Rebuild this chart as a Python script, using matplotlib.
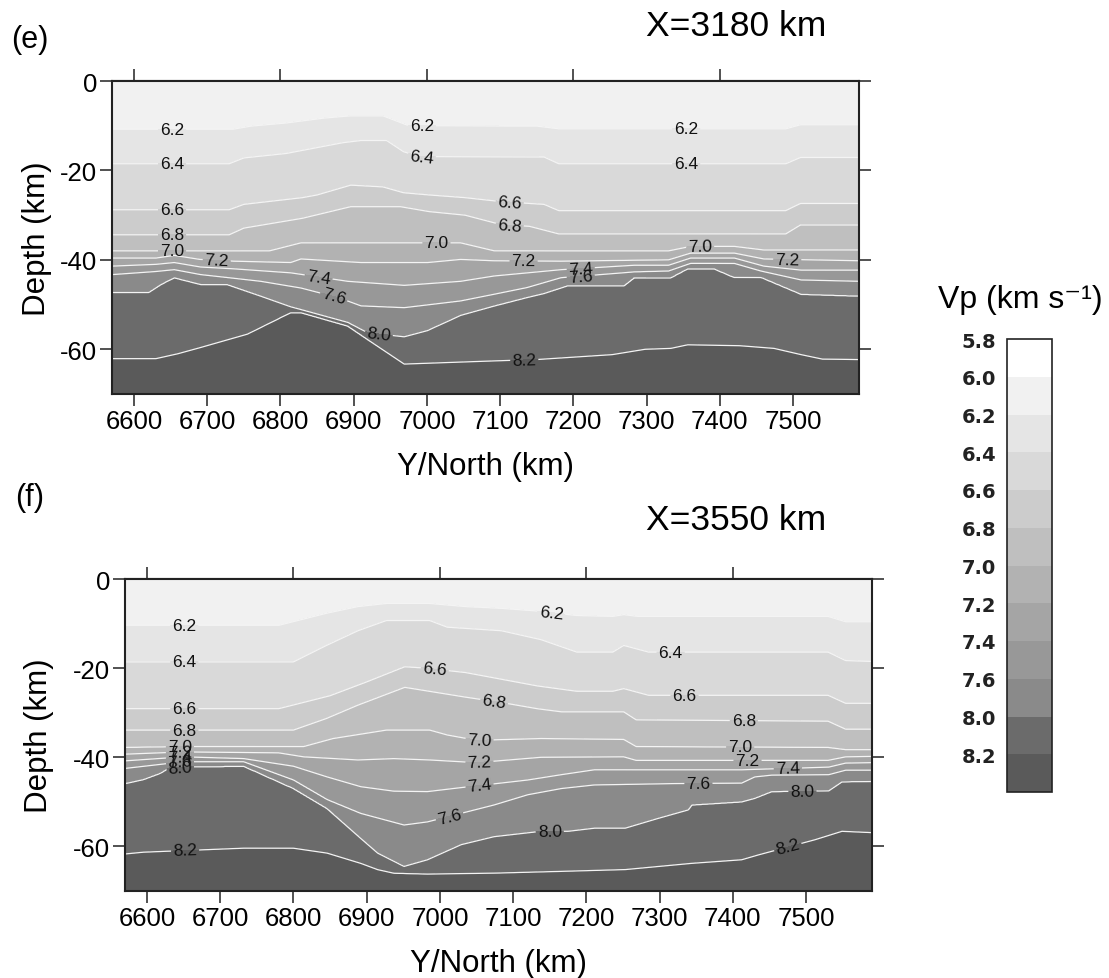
import numpy as np
import matplotlib
matplotlib.use('Agg')
import matplotlib.pyplot as plt

plt.rcParams['font.family'] = ['Liberation Sans', 'DejaVu Sans']
plt.rcParams['axes.unicode_minus'] = False

W, H = 1109, 979

# ---------------- colour scale ----------------
VP_BOUNDS = [5.8, 6.0, 6.2, 6.4, 6.6, 6.8, 7.0, 7.2, 7.4, 7.6, 8.0, 8.2, 8.6]
VP_TICKS = [5.8, 6.0, 6.2, 6.4, 6.6, 6.8, 7.0, 7.2, 7.4, 7.6, 8.0, 8.2]
LINE_LEVELS = [6.2, 6.4, 6.6, 6.8, 7.0, 7.2, 7.4, 7.6, 8.0, 8.2]
GREYS = ['#ffffff', '#f1f1f1', '#e5e5e5', '#d9d9d9', '#cccccc', '#bfbfbf',
         '#b2b2b2', '#a5a5a5', '#989898', '#8a8a8a', '#6b6b6b', '#5a5a5a']
SURFACE_VP = 6.1
BOTTOM_VP = 8.35

# ---------------- panel (e): X = 3180 km, iso-velocity depths ----------------
e_y62 = [6570, 6735, 6760, 6808, 6860, 6896, 6940, 6975, 7150, 7180, 7490, 7510, 7590]
e_z62 = [-10.8, -10.8, -10.1, -9.4, -8.3, -7.8, -7.8, -10.0, -10.1, -10.7, -10.7, -9.8, -9.8]
e_y64 = [6570, 6730, 6750, 6808, 6840, 6885, 6910, 6945, 6968, 6990, 7160, 7180, 7490, 7510, 7590]
e_z64 = [-18.5, -18.5, -17.2, -16.2, -15.2, -13.8, -13.3, -13.3, -15.8, -16.9, -17.0, -18.5, -18.5, -17.1, -17.1]
e_y66 = [6570, 6730, 6750, 6830, 6850, 6896, 6940, 6968, 7003, 7052, 7091, 7140, 7160, 7180, 7490, 7510, 7590]
e_z66 = [-28.8, -28.8, -27.6, -26.1, -25.5, -23.3, -23.7, -25.0, -25.5, -26.1, -26.8, -27.4, -27.6, -29.0, -29.0, -27.4, -27.4]
e_y68 = [6570, 6730, 6750, 6830, 6896, 6964, 7003, 7052, 7101, 7140, 7180, 7490, 7510, 7590]
e_z68 = [-34.4, -34.4, -32.9, -30.7, -28.1, -28.1, -29.2, -30.0, -32.1, -32.5, -34.2, -34.2, -32.2, -32.2]
e_y70 = [6570, 6785, 6828, 7046, 7092, 7330, 7360, 7420, 7460, 7590]
e_z70 = [-38.0, -38.0, -36.2, -36.2, -38.0, -38.0, -37.0, -37.0, -37.8, -37.8]
e_y72 = [6570, 6630, 6655, 6690, 6736, 6814, 6828, 6910, 7001, 7046, 7092, 7183, 7330, 7360, 7420, 7460, 7590]
e_z72 = [-39.6, -39.6, -39.0, -39.9, -40.3, -40.6, -39.8, -40.6, -40.6, -39.9, -40.2, -40.3, -40.0, -38.5, -38.5, -39.8, -40.2]
e_y74 = [6570, 6630, 6655, 6691, 6736, 6814, 6892, 6969, 7046, 7092, 7183, 7283, 7330, 7360, 7420, 7460, 7511, 7590]
e_z74 = [-41.4, -41.0, -40.6, -41.6, -42.0, -42.9, -44.8, -45.7, -44.8, -43.6, -42.2, -41.2, -41.2, -39.6, -39.6, -41.4, -42.3, -42.3]
e_y76 = [6570, 6630, 6655, 6691, 6773, 6828, 6880, 6910, 6969, 7046, 7092, 7137, 7183, 7283, 7330, 7360, 7420, 7456, 7511, 7590]
e_z76 = [-43.3, -42.6, -42.2, -43.3, -44.8, -46.3, -48.5, -50.3, -50.7, -49.2, -47.7, -46.2, -44.0, -42.7, -42.5, -40.8, -40.8, -42.5, -44.5, -44.8]
e_y80 = [6570, 6620, 6637, 6655, 6691, 6727, 6773, 6814, 6892, 6919, 6969, 7001, 7046, 7092, 7137, 7160, 7192,
         7269, 7283, 7333, 7356, 7392, 7419, 7456, 7511, 7590]
e_z80 = [-47.3, -47.3, -45.5, -44.0, -45.5, -45.5, -48.1, -50.5, -54.0, -56.3, -57.2, -55.8, -52.4, -50.3, -48.4, -47.5, -45.8,
         -45.8, -44.0, -44.0, -42.0, -42.0, -43.9, -43.9, -47.7, -48.1]
e_y82 = [6570, 6630, 6660, 6691, 6755, 6814, 6828, 6892, 6919, 6969, 7092, 7150, 7253, 7298, 7333, 7356, 7427, 7474, 7511, 7540, 7590]
e_z82 = [-62.1, -62.1, -61.0, -59.6, -56.6, -51.8, -51.8, -54.8, -57.8, -63.3, -62.6, -62.3, -61.2, -60.0, -59.8, -59.0, -59.2, -59.8, -61.2, -62.2, -62.3]

# ---------------- panel (f): X = 3550 km ----------------
f_y62 = [6570, 6780, 6845, 6888, 6927, 6986, 7035, 7084, 7133, 7187, 7236, 7251, 7270, 7530, 7554, 7590]
f_z62 = [-10.4, -10.4, -7.7, -6.2, -5.5, -5.5, -6.2, -6.6, -7.2, -8.2, -8.4, -8.0, -8.4, -8.4, -9.6, -9.6]
f_y64 = [6570, 6800, 6845, 6888, 6927, 6986, 7010, 7084, 7138, 7187, 7236, 7251, 7285, 7530, 7554, 7590]
f_z64 = [-18.6, -18.6, -14.9, -11.6, -9.3, -9.3, -10.8, -11.6, -13.6, -16.4, -16.4, -14.9, -16.4, -16.4, -18.3, -18.5]
f_y66 = [6570, 6780, 6850, 6900, 6952, 6980, 7035, 7084, 7133, 7187, 7236, 7251, 7285, 7530, 7554, 7590]
f_z66 = [-29.1, -29.1, -26.2, -23.1, -19.7, -20.0, -21.0, -22.5, -24.0, -25.2, -25.2, -24.6, -26.1, -26.1, -27.9, -27.9]
f_y68 = [6570, 6800, 6845, 6888, 6952, 6986, 7035, 7084, 7133, 7166, 7251, 7268, 7530, 7554, 7590]
f_z68 = [-33.9, -33.9, -31.3, -28.3, -24.3, -25.2, -26.5, -27.7, -29.1, -29.8, -29.8, -31.6, -31.9, -33.7, -33.7]
f_y70 = [6570, 6650, 6814, 6854, 6927, 6986, 7010, 7050, 7138, 7251, 7268, 7530, 7554, 7590]
f_z70 = [-37.8, -37.6, -37.6, -35.8, -33.9, -33.9, -35.0, -36.2, -35.8, -36.0, -37.6, -37.8, -38.3, -38.3]
f_y72 = [6570, 6650, 6780, 6814, 6888, 6937, 6986, 7050, 7138, 7251, 7268, 7530, 7554, 7590]
f_z72 = [-39.3, -38.8, -39.0, -39.9, -40.6, -40.3, -40.6, -41.2, -40.0, -39.9, -40.7, -40.7, -39.9, -39.8]
f_y74 = [6570, 6650, 6732, 6800, 6846, 6892, 6937, 6983, 7029, 7120, 7166, 7211, 7412, 7474, 7531, 7554, 7590]
f_z74 = [-40.8, -39.9, -40.3, -42.0, -44.4, -46.6, -47.6, -47.7, -46.8, -45.1, -43.9, -42.8, -42.8, -42.5, -42.2, -41.3, -41.2]
f_y76 = [6570, 6650, 6732, 6800, 6846, 6892, 6951, 6983, 7074, 7120, 7166, 7211, 7320, 7412, 7430, 7453, 7531, 7554, 7590]
f_z76 = [-42.5, -41.0, -41.0, -45.1, -49.5, -52.6, -55.2, -54.5, -50.7, -48.4, -47.0, -46.2, -45.9, -45.8, -44.4, -44.0, -43.9, -42.9, -42.9]
f_y80 = [6570, 6595, 6618, 6632, 6732, 6800, 6846, 6892, 6915, 6951, 6983, 7029, 7074, 7138, 7175, 7211, 7253,
         7298, 7339, 7344, 7412, 7430, 7453, 7531, 7549, 7590]
f_z80 = [-45.9, -45.0, -43.6, -42.2, -42.0, -47.0, -51.5, -58.2, -61.5, -64.5, -63.0, -59.6, -57.8, -56.6, -56.6, -55.9, -55.9,
         -53.7, -51.8, -50.7, -50.0, -49.2, -47.7, -47.5, -45.5, -45.4]
f_y82 = [6570, 6595, 6732, 6800, 6846, 6892, 6915, 6937, 6983, 7074, 7166, 7253, 7344, 7412, 7435, 7512, 7549, 7590]
f_z82 = [-61.7, -61.3, -60.4, -60.4, -61.5, -63.8, -65.2, -66.0, -66.2, -66.0, -65.6, -65.2, -63.8, -63.0, -61.9, -58.5, -56.6, -56.9]

E_LINES = [(e_y62, e_z62), (e_y64, e_z64), (e_y66, e_z66), (e_y68, e_z68), (e_y70, e_z70),
           (e_y72, e_z72), (e_y74, e_z74), (e_y76, e_z76), (e_y80, e_z80), (e_y82, e_z82)]
F_LINES = [(f_y62, f_z62), (f_y64, f_z64), (f_y66, f_z66), (f_y68, f_z68), (f_y70, f_z70),
           (f_y72, f_z72), (f_y74, f_z74), (f_y76, f_z76), (f_y80, f_z80), (f_y82, f_z82)]

# contour-label anchor points (Y, depth)
E_LABEL_POS = [(6652, -10.8), (6993, -10.0), (7354, -10.7), (6652, -18.6), (6993, -17.1), (7354, -18.6),
               (6652, -28.9), (7113, -27.2), (6652, -34.4), (7113, -32.3), (6652, -38.0), (7013, -36.3),
               (7373, -37.1), (6713, -40.3), (7132, -40.4), (7492, -40.2), (6852, -44.0), (7210, -41.9),
               (6872, -48.8), (7210, -43.6), (6934, -57.0), (7133, -62.6)]
F_LABEL_POS = [(6651, -10.4), (7152, -7.3), (6651, -18.6), (7315, -16.4), (6651, -29.1), (6993, -20.2),
               (7334, -26.1), (6651, -33.9), (7074, -27.6), (7415, -31.9), (6645, -37.6), (7054, -36.1),
               (7410, -37.8), (6645, -38.8), (7054, -41.2), (7420, -40.7), (6645, -39.9), (7054, -46.3),
               (7475, -42.4), (6645, -41.0), (7013, -53.2), (7353, -45.9), (6645, -42.1), (7150, -56.6),
               (7495, -47.6), (6652, -60.6), (7475, -60.1)]

Y_MIN, Y_MAX = 6570, 7590
Z_MIN, Z_MAX = -70, 0


def velocity_field(lines):
    yf = np.linspace(Y_MIN, Y_MAX, 900)
    zf = np.linspace(Z_MIN, Z_MAX, 800)
    depths = np.array([np.interp(yf, ly, lz) for ly, lz in lines])  # (nlev, ny)
    vals = np.array([SURFACE_VP] + LINE_LEVELS + [BOTTOM_VP])
    V = np.empty((zf.size, yf.size))
    for j in range(yf.size):
        d = np.concatenate([[0.0], depths[:, j], [Z_MIN]])
        dd = -d
        dd = np.maximum.accumulate(dd + np.arange(dd.size) * 1e-4)
        V[:, j] = np.interp(-zf, dd, vals)
    return yf, zf, V


fig = plt.figure(figsize=(W / 100, H / 100), dpi=100)
fig.patch.set_facecolor('white')

panels = [
    dict(lines=E_LINES, labels=E_LABEL_POS, rect=(112, 82, 859, 395), title='X=3180 km',
         tag='(e)', tag_xy=(30, 40), title_xy=(736, 27), ylab_x=37, xlab_y=467),
    dict(lines=F_LINES, labels=F_LABEL_POS, rect=(125, 580, 872, 892), title='X=3550 km',
         tag='(f)', tag_xy=(30, 498), title_xy=(736, 521), ylab_x=39, xlab_y=964),
]

cf_last = None
for p in panels:
    l, t, r, b = p['rect']
    ax = fig.add_axes([l / W, 1 - b / H, (r - l) / W, (b - t) / H])
    yf, zf, V = velocity_field(p['lines'])
    cf = ax.contourf(yf, zf, V, levels=VP_BOUNDS, colors=GREYS)
    cs = ax.contour(yf, zf, V, levels=LINE_LEVELS, colors='#f4f4f4', linewidths=0.9)
    ax.clabel(cs, LINE_LEVELS, manual=p['labels'], inline=True, inline_spacing=2,
              fmt='%.1f', fontsize=12.5, colors='#111111')
    cf_last = cf
    ax.set_xlim(Y_MIN, Y_MAX)
    ax.set_ylim(Z_MIN, Z_MAX)
    ax.set_xticks([6600, 6700, 6800, 6900, 7000, 7100, 7200, 7300, 7400, 7500])
    ax.set_yticks([0, -20, -40, -60])
    ax.tick_params(direction='out', length=8.5, width=1.1, labelsize=18.5, pad=2,
                   right=True, labelright=False, color='#222222')
    for s in ax.spines.values():
        s.set_linewidth(1.5)
        s.set_color('#222222')
    sec = ax.secondary_xaxis('top')
    sec.set_xticks([6600, 6800, 7000, 7200, 7400])
    sec.tick_params(direction='out', length=8.5, width=1.1, labeltop=False, color='#222222')
    sec.spines['top'].set_linewidth(1.5)
    sec.spines['top'].set_color('#222222')
    fig.text(p['ylab_x'] / W, 1 - ((t + b) / 2) / H, 'Depth (km)', rotation=90,
             ha='center', va='center', fontsize=22.5)
    fig.text(((l + r) / 2) / W, 1 - p['xlab_y'] / H, 'Y/North (km)',
             ha='center', va='center', fontsize=22.5)
    fig.text(p['title_xy'][0] / W, 1 - p['title_xy'][1] / H, p['title'],
             ha='center', va='center', fontsize=25.5)
    fig.text(p['tag_xy'][0] / W, 1 - p['tag_xy'][1] / H, p['tag'],
             ha='center', va='center', fontsize=22)

# ---------------- colorbar ----------------
cax = fig.add_axes([1007 / W, 1 - 793 / H, 45 / W, 453 / H])
cb = fig.colorbar(cf_last, cax=cax, ticks=VP_TICKS, drawedges=True, format='%.1f')
cb.outline.set_linewidth(1.2)
cb.outline.set_edgecolor('#222222')
cb.dividers.set_color('#555555')
cb.dividers.set_linewidth(0.8)
cax.invert_yaxis()
cax.yaxis.set_ticks_position('left')
cax.yaxis.set_label_position('left')
cax.tick_params(length=0, pad=8)
for lab in cax.get_yticklabels():
    lab.set_fontfamily('DejaVu Sans')
    lab.set_fontweight('bold')
    lab.set_fontsize(14)
    lab.set_color('#222222')

fig.text(938 / W, 1 - 300 / H, 'Vp (km s\u207b\u00b9)', ha='left', va='center', fontsize=23,
         family=['Liberation Sans', 'DejaVu Sans'])

fig.savefig('out.png', dpi=100, facecolor='white')
